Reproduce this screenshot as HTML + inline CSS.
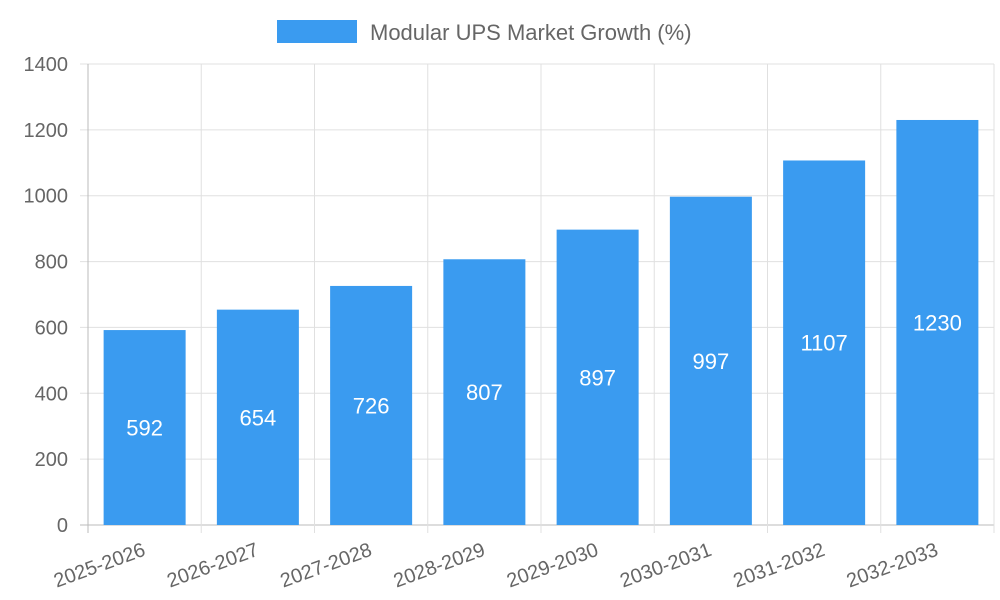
<!DOCTYPE html>
<html><head><meta charset="utf-8"><style>
body{margin:0;background:#fff;}
svg{display:block;font-family:"Liberation Sans",sans-serif;}
</style></head><body>
<svg id="chart" width="1000" height="600">
<g id="grid"></g><g id="bars"></g><g id="labels"></g>
<rect x="277" y="20" width="80" height="23" fill="#3a9bf0"/>
<text x="370" y="40" font-size="22" fill="#666">Modular UPS Market Growth (%)</text>
</svg>
<script>
const categories=["2025-2026","2026-2027","2027-2028","2028-2029","2029-2030","2030-2031","2031-2032","2032-2033"];
const values=[592,654,726,807,897,997,1107,1230];
const yTicks=[0,200,400,600,800,1000,1200,1400];
const NS="http://www.w3.org/2000/svg";
const L=88,R=994,T=64,B=525,yMax=1400;
const y=v=>B-(v/yMax)*(B-T);
const bw=(R-L)/categories.length;
const x=i=>L+bw*i;
function mk(tag,attrs,parent,txt){const e=document.createElementNS(NS,tag);for(const k in attrs)e.setAttribute(k,attrs[k]);if(txt!=null)e.textContent=txt;document.getElementById(parent).appendChild(e);return e;}
yTicks.forEach(t=>{
 const l=mk("line",{x1:L-8,x2:R,y1:y(t),y2:y(t),stroke:t===0?"#bbb":"#e0e0e0","stroke-width":1},"grid");
 
 
 const tx=mk("text",{x:L-20,y:y(t)+7,"text-anchor":"end","font-size":20,fill:"#666"},"grid",t);
 
 
});
for(let i=0;i<=categories.length;i++){
 const l=mk("line",{x1:x(i),x2:x(i),y1:T,y2:B+8,stroke:i===0?"#bbb":"#e0e0e0","stroke-width":1},"grid");
 
 
}
categories.forEach((c,i)=>{
 const cx=x(i)+bw/2, w=82;
 const r=mk("rect",{x:cx-w/2,y:y(values[i]),width:w,height:B-y(values[i]),fill:"#3a9bf0"},"bars");
 
 
 const v=mk("text",{x:cx,y:(y(values[i])+B)/2+8,"text-anchor":"middle","font-size":22,fill:"#fff"},"labels",values[i]);
 
 
 const xl=mk("text",{x:cx+2,y:B+30,"text-anchor":"end","font-size":20,fill:"#666",transform:`rotate(-20 ${cx+2} ${B+30})`},"labels",c);
 
 
});
</script>
</body></html>
